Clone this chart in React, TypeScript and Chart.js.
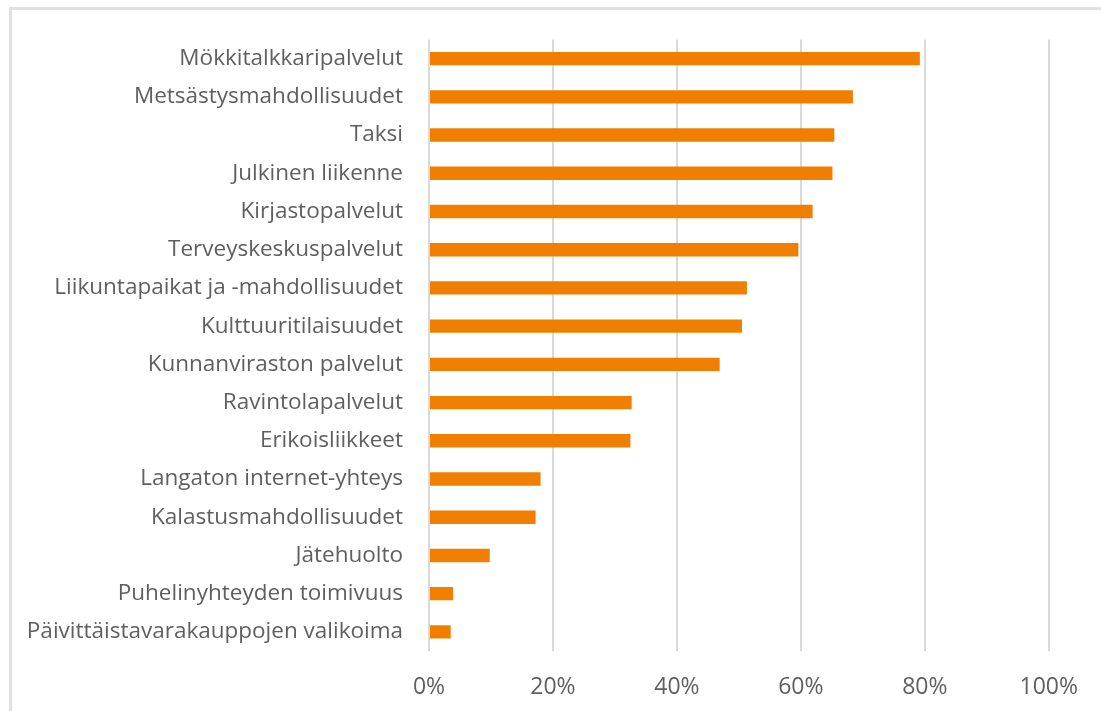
import React, { useEffect, useRef } from "react";
import { Chart, registerables } from "chart.js";

Chart.register(...registerables);

const categories: string[] = [
  "Mökkitalkkaripalvelut",
  "Metsästysmahdollisuudet",
  "Taksi",
  "Julkinen liikenne",
  "Kirjastopalvelut",
  "Terveyskeskuspalvelut",
  "Liikuntapaikat ja -mahdollisuudet",
  "Kulttuuritilaisuudet",
  "Kunnanviraston palvelut",
  "Ravintolapalvelut",
  "Erikoisliikkeet",
  "Langaton internet-yhteys",
  "Kalastusmahdollisuudet",
  "Jätehuolto",
  "Puhelinyhteyden toimivuus",
  "Päivittäistavarakauppojen valikoima",
];

const values: number[] = [
  79.2, 68.4, 65.4, 65.1, 61.9, 59.6, 51.3, 50.5, 46.9, 32.7, 32.5, 18.0, 17.2, 9.8, 3.9, 3.5,
];

const xTicks: number[] = [0, 20, 40, 60, 80, 100];

const FONT = "'Open Sans', 'Noto Sans', sans-serif";

export default function App() {
  const ref = useRef<HTMLCanvasElement | null>(null);

  useEffect(() => {
    if (!ref.current) return;
    const chart = new Chart(ref.current, {
      type: "bar",
      data: {
        labels: categories,
        datasets: [
          {
            data: values,
            backgroundColor: "#F07F00",
            borderWidth: 0,
            barPercentage: 0.35,
            categoryPercentage: 1,
          },
        ],
      },
      options: {
        indexAxis: "y",
        animation: false,
        responsive: false,
        maintainAspectRatio: false,
        layout: { padding: { top: 37, right: 50, bottom: 0, left: 0 } },
        plugins: { legend: { display: false }, tooltip: { enabled: false } },
        scales: {
          x: {
            min: 0,
            max: 100,
            afterBuildTicks: (axis: any) => {
              axis.ticks = xTicks.map((v) => ({ value: v }));
            },
            afterFit: (axis: any) => {
              axis.height = 60;
            },
            grid: { color: "#d9d9d9", lineWidth: 2, drawTicks: false },
            border: { display: false },
            ticks: {
              padding: 23,
              color: "#5f5f5f",
              font: { family: FONT, size: 23 },
              callback: (v: any) => v + "%",
            },
          },
          y: {
            afterFit: (axis: any) => {
              axis.width = 429;
            },
            grid: { display: false, drawTicks: false },
            border: { display: false },
            ticks: {
              padding: 26,
              color: "#5f5f5f",
              font: { family: FONT, size: 22.5 },
              autoSkip: false,
            },
          },
        },
      },
    });
    return () => chart.destroy();
  }, []);

  return (
    <div style={{ position: "absolute", left: 0, top: 0, width: 1101, height: 711, background: "#fff", overflow: "hidden" }}>
      <div
        style={{
          position: "absolute",
          left: 9,
          top: 7,
          width: 1200,
          height: 800,
          borderTop: "3px solid #e0e0e0",
          borderLeft: "3px solid #e0e0e0",
        }}
      />
      <canvas ref={ref} width={1101} height={711} style={{ position: "absolute", left: 0, top: 0 }} />
    </div>
  );
}
